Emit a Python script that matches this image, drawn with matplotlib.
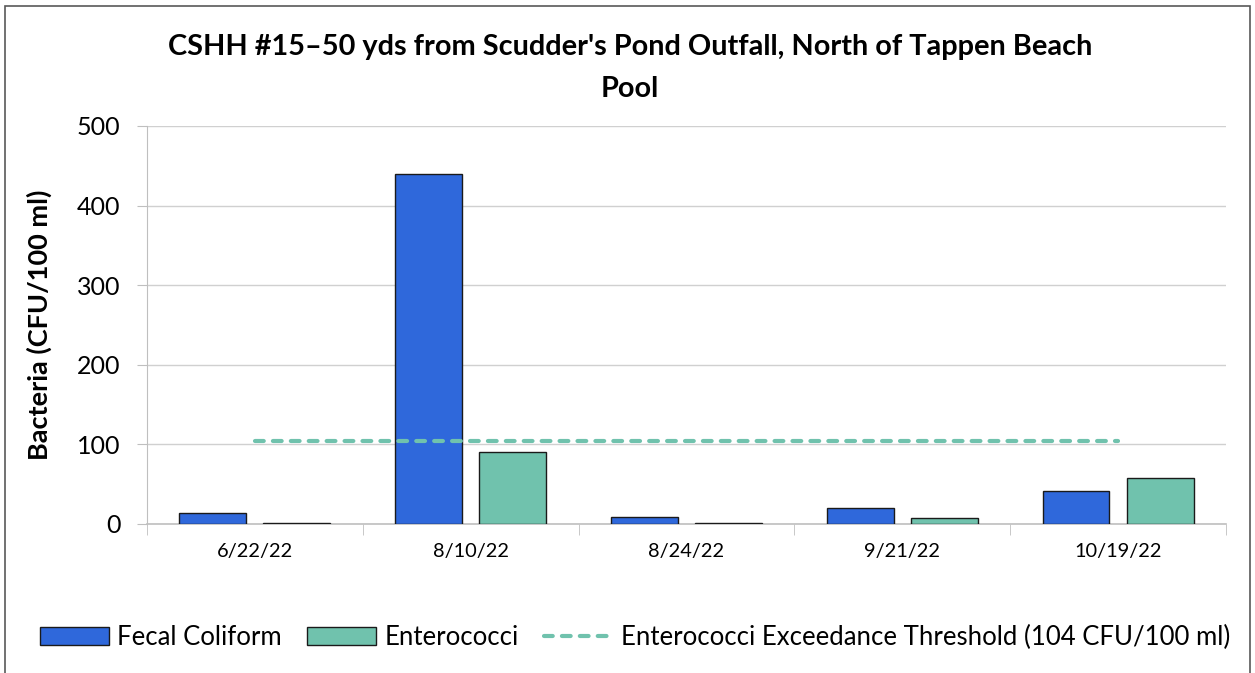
import numpy as np
import matplotlib
matplotlib.use("Agg")
import matplotlib.pyplot as plt
from matplotlib.patches import Rectangle

plt.rcParams['font.family'] = ['Lato', 'DejaVu Sans']

dates = ['6/22/22', '8/10/22', '8/24/22', '9/21/22', '10/19/22']
fecal = [14, 440, 9, 20, 41]
entero = [1, 90, 1, 7.5, 58]
threshold = 104

fig = plt.figure(figsize=(12.55, 6.73), dpi=100)
ax = fig.add_axes([0.1171, 0.2214, 0.8598, 0.5914])

x = np.arange(len(dates))
w = 0.31
off = 0.195
b1 = ax.bar(x - off, fecal, w, color='#2F68DB', edgecolor='#1a1a1a', linewidth=1,
            label='Fecal Coliform', zorder=3)
b2 = ax.bar(x + off, entero, w, color='#70C2AD', edgecolor='#1a1a1a', linewidth=1,
            label='Enterococci', zorder=3)
ln, = ax.plot(x, [threshold] * len(x), color='#70C2AD', linewidth=3,
              dashes=(2.1, 2.2), dash_capstyle='round',
              label='Enterococci Exceedance Threshold (104 CFU/100 ml)', zorder=4)

ax.set_xlim(-0.5, len(dates) - 0.5)
ax.set_ylim(0, 500)
ax.set_yticks(range(0, 501, 100))
ax.tick_params(axis='y', labelsize=18, length=7, color='#bfbfbf', pad=12)
ax.set_xticks(x)
ax.set_xticklabels(dates)
ax.tick_params(axis='x', which='major', length=0, labelsize=14.4, pad=14)
ax.set_xticks(np.arange(-0.5, len(dates), 1), minor=True)
ax.tick_params(axis='x', which='minor', length=8, color='#bfbfbf')
ax.grid(axis='y', color='#d0d0d0', linewidth=1, zorder=0)
for s in ['top', 'right']:
    ax.spines[s].set_visible(False)
ax.spines['left'].set_color('#bfbfbf')
ax.spines['bottom'].set_color('#bfbfbf')
ax.spines['bottom'].set_linewidth(1.2)

ax.set_ylabel('Bacteria (CFU/100 ml)', fontsize=19.5, fontweight='bold', labelpad=18)

fig.text(0.502, 0.899, "CSHH #15\u201350 yds from Scudder's Pond Outfall, North of Tappen Beach\nPool",
         ha='center', va='center', fontsize=20.8, fontweight='bold', linespacing=1.8)

fig.legend(handles=[b1, b2, ln], loc='center', bbox_to_anchor=(0.506, 0.053), ncol=3,
           frameon=False, fontsize=18.5, handlelength=2.7, handleheight=0.75,
           columnspacing=1.0, handletextpad=0.3)

# outer chart border
fig.add_artist(Rectangle((5 / 1255, -0.05), 1245 / 1255, 1.05 - 6 / 673,
                         transform=fig.transFigure, fill=False,
                         edgecolor='#595959', linewidth=1.2))

fig.savefig('out.png', dpi=100)
